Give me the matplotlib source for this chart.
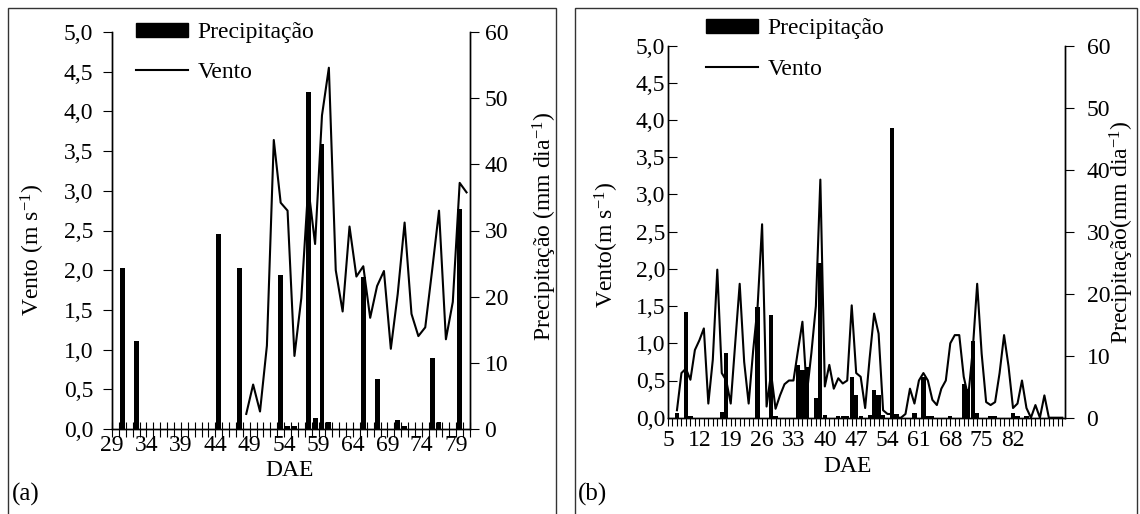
import numpy as np
import matplotlib
matplotlib.use("Agg")
import matplotlib.pyplot as plt
from matplotlib.lines import Line2D
from matplotlib.patches import Patch, Rectangle

plt.rcParams['font.family'] = ['Liberation Serif', 'DejaVu Serif']
plt.rcParams['mathtext.fontset'] = 'custom'
plt.rcParams['mathtext.rm'] = 'Liberation Serif'
plt.rcParams['mathtext.it'] = 'Liberation Serif:italic'
plt.rcParams['font.size'] = 17

# ---- painel (a) : DAE 29..80
dae_a = np.arange(29, 81)
vento_a_dae = np.arange(48, 81)
vento_a = [0.19, 0.56, 0.22, 1.05, 3.64, 2.85, 2.75, 0.92, 1.65, 3.05, 2.33, 3.95, 4.55,
           2.00, 1.48, 2.55, 1.92, 2.05, 1.40, 1.80, 1.99, 1.01, 1.70, 2.60, 1.45, 1.17,
           1.28, 2.00, 2.75, 1.13, 1.60, 3.10, 2.98]
prec_a_dae = [30, 32, 44, 47, 53, 54, 55, 57, 58, 59, 60, 65, 67, 70, 71, 75, 76, 79]
prec_a = [24.4, 13.3, 29.5, 24.4, 23.2, 0.4, 0.4, 51.0, 1.6, 43.0, 1.1, 23.0, 7.6,
          1.4, 0.4, 10.8, 1.0, 33.2]
labels_a = [29, 34, 39, 44, 49, 54, 59, 64, 69, 74, 79]

# ---- painel (b) : DAE 5..93 (vento medido de 7 a 93)
vento_b_dae = np.arange(7, 94)
vento_b = [0.10, 0.60, 0.66, 0.51, 0.91, 1.04, 1.20, 0.19, 0.78, 1.99,
           0.60, 0.50, 0.19, 1.00, 1.80, 0.75, 0.19, 0.90, 1.50, 2.60,
           0.15, 0.60, 0.12, 0.30, 0.45, 0.50, 0.50, 0.90, 1.29, 0.33,
           0.87, 1.50, 3.20, 0.42, 0.71, 0.39, 0.53, 0.46, 0.50, 1.51,
           0.60, 0.55, 0.13, 0.80, 1.40, 1.13, 0.10, 0.05, 0.05, 0.00,
           0.00, 0.05, 0.39, 0.19, 0.50, 0.60, 0.50, 0.24, 0.17, 0.39,
           0.50, 1.00, 1.11, 1.11, 0.55, 0.28, 0.90, 1.80, 0.86, 0.21,
           0.17, 0.21, 0.60, 1.11, 0.69, 0.13, 0.19, 0.50, 0.13, 0.00,
           0.17, 0.00, 0.30, 0.00, 0.00, 0.00, 0.00]
prec_b_dae = [7, 9, 10, 17, 18, 25, 28, 29, 34, 35, 36, 38, 39, 40, 43, 44, 45, 46, 47,
              48, 50, 51, 52, 53, 55, 56, 60, 62, 63, 64, 68, 71, 72, 73, 74, 77, 78,
              82, 83, 85]
prec_b = [0.7, 17.1, 0.3, 1.0, 10.4, 17.9, 16.6, 0.3, 8.5, 7.7, 8.2, 3.1, 25.0, 0.5,
          0.3, 0.3, 0.3, 6.6, 3.6, 0.3, 0.5, 4.5, 3.7, 0.5, 46.8, 0.6, 0.7, 6.6, 0.3,
          0.3, 0.3, 5.5, 4.7, 12.3, 0.8, 0.3, 0.3, 0.7, 0.3, 0.3]
labels_b = [5, 12, 19, 26, 33, 40, 47, 54, 61, 68, 75, 82]

W, H = 1140, 514
fig = plt.figure(figsize=(W / 100, H / 100), dpi=100)


def fx(px):
    return px / W


def fy(py):
    return 1 - py / H


def setup(ax, ax2, xlim, ticks, labels):
    ax.set_zorder(ax2.get_zorder() + 1)
    ax.patch.set_visible(False)
    ax.set_xlim(*xlim)
    ax.set_ylim(0, 5)
    ax2.set_ylim(0, 60)
    yt = np.arange(0, 5.01, 0.5)
    ax.set_yticks(yt)
    ax.set_yticklabels([f"{v:.1f}".replace('.', ',') for v in yt])
    ax2.set_yticks(np.arange(0, 61, 10))
    ax.set_xticks(ticks)
    ax.set_xticklabels(labels)
    for a in (ax, ax2):
        a.spines['top'].set_visible(False)
        for s in a.spines.values():
            s.set_linewidth(1.0)


# (a)
ax_a = fig.add_axes([fx(112), fy(429), fx(470 - 112), (429 - 32) / H])
ax2_a = ax_a.twinx()
ax2_a.bar(prec_a_dae, prec_a, width=0.72, color='black', linewidth=0)
ax_a.plot(vento_a_dae, vento_a, color='black', lw=1.5)
bounds_a = np.arange(dae_a[0] - 0.5, dae_a[-1] + 1, 1)
setup(ax_a, ax2_a, (dae_a[0] - 0.5, dae_a[-1] + 0.5), bounds_a,
      [str(int(b + 0.5)) if int(b + 0.5) in labels_a else '' for b in bounds_a])
ax_a.tick_params(axis='x', direction='inout', length=10.8, width=0.8, pad=-1)
ax_a.tick_params(axis='y', direction='out', length=6.5, width=0.8, pad=7)
ax2_a.tick_params(axis='y', direction='out', length=6.5, width=0.8, pad=4)

# (b)
ax_b = fig.add_axes([fx(668), fy(417.7), fx(1065 - 668), (417.7 - 45.7) / H])
ax2_b = ax_b.twinx()
ax2_b.bar(prec_b_dae, prec_b, width=0.95, color='black', linewidth=0)
ax_b.plot(vento_b_dae, vento_b, color='black', lw=1.5)
ticks_b = np.arange(5, 94)
setup(ax_b, ax2_b, (5, 93.6), ticks_b,
      [str(t) if t in labels_b else '' for t in ticks_b])
ax_b.tick_params(axis='x', direction='out', length=5.8, width=0.8, pad=3)
ax_b.tick_params(axis='y', direction='in', length=6.5, width=0.8, pad=2)
ax2_b.tick_params(axis='y', direction='out', length=6.5, width=0.8, pad=9)

# rótulos
fig.text(fx(33), fy(250), "Vento (m s$^{-1}$)", rotation=90, ha='center', va='center')
fig.text(fx(545), fy(226), "Precipitação (mm dia$^{-1}$)", rotation=90, ha='center', va='center')
fig.text(fx(607), fy(245), "Vento(m s$^{-1}$)", rotation=90, ha='center', va='center')
fig.text(fx(1122), fy(232), "Precipitação(mm dia$^{-1}$)", rotation=90, ha='center', va='center')
fig.text(fx(290), fy(471), "DAE", ha='center', va='center')
fig.text(fx(848), fy(467), "DAE", ha='center', va='center')
fig.text(fx(12), fy(494), "(a)", ha='left', va='center', fontsize=18)
fig.text(fx(578), fy(494), "(b)", ha='left', va='center', fontsize=18)

handles = [Patch(facecolor='black', edgecolor='black'), Line2D([], [], color='black', lw=1.5)]
for x0, y0, sp in [(136, 22, 0.8), (706, 18, 0.85)]:
    fig.legend(handles, ["Precipitação", "Vento"], loc='upper left',
               bbox_to_anchor=(fx(x0), fy(y0)), frameon=False, handlelength=2.2,
               handleheight=0.55, handletextpad=0.4, labelspacing=sp,
               borderpad=0, borderaxespad=0, fontsize=17)

# molduras dos painéis
for x0, x1 in [(8, 556), (575, 1137)]:
    fig.patches.append(Rectangle((fx(x0), -0.1), fx(x1 - x0), fy(8) + 0.1,
                                 transform=fig.transFigure, fill=False,
                                 edgecolor='#333333', lw=1.0))

fig.savefig("out.png", dpi=100)
